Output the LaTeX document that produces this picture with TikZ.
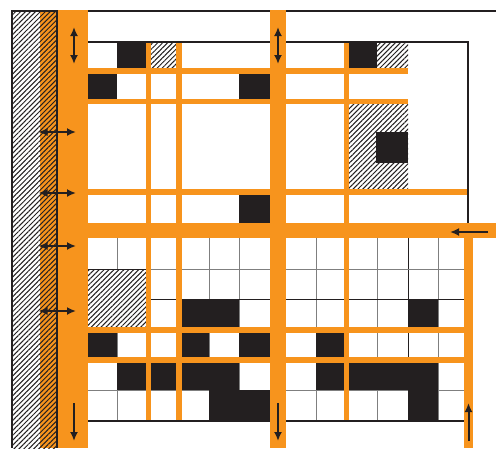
\documentclass[tikz,border=0pt]{standalone}
\usetikzlibrary{arrows.meta,patterns.meta}
\definecolor{org}{HTML}{F7941D}
\definecolor{ink}{HTML}{231F20}
\definecolor{gridgray}{HTML}{7F7F7F}
\begin{document}
\begin{tikzpicture}[x=1pt,y=-1pt,
  orng/.style={fill=org},
  blk/.style={fill=ink},
  hatch/.style={pattern={Lines[angle=45,distance=3.5pt,line width=1pt]},pattern color=ink},
  gl/.style={draw=gridgray,line width=1pt},
  glk/.style={draw=ink,line width=1pt},
  arr/.style={draw=ink,line width=2pt,-{Latex[length=9pt,width=8pt]}},
  darr/.style={draw=ink,line width=2pt,{Latex[length=9pt,width=8pt]}-{Latex[length=9pt,width=8pt]}}]
\fill[white] (0,0) rectangle (496,448);
\useasboundingbox (0,0) rectangle (496,448);
% left hatched wall
\fill[white] (11,10) rectangle (40,448);
\fill[org] (40,10) rectangle (57,448);
\fill[hatch] (11,10) rectangle (57,448);
\fill[ink] (11,10) rectangle (13,448);
\fill[ink] (56,10) rectangle (58,448);
% top region cells
\fill[blk] (117,43) rectangle (146,68);
\fill[white] (151,43) rectangle (176,68);
\fill[hatch] (151,43) rectangle (176,68);
\fill[blk] (349,43) rectangle (377,68);
\fill[hatch] (377,43) rectangle (408,68);
\fill[blk] (88,74) rectangle (117,99);
\fill[blk] (239,74) rectangle (270,99);
\fill[hatch] (349,104) rectangle (408,189);
\fill[blk] (376,132) rectangle (408,163);
\fill[blk] (239,195) rectangle (270,223);
% lower grid lines
\foreach \x in {117,209,239,316,377,438} \draw[gl] (\x,238) -- (\x,420);
\draw[glk] (408,238) -- (408,420);
\foreach \y in {269,390} \draw[gl] (88,\y) -- (464,\y);
\draw[glk] (88,299) -- (464,299);
% lower hatched cell
\fill[white] (88,269) rectangle (146,327);
\fill[hatch] (88,269) rectangle (146,327);
\draw[glk] (88,269) -- (146,269);
% lower black cells
\fill[blk] (182,299) rectangle (239,327);
\fill[blk] (408,299) rectangle (438,327);
\fill[blk] (88,333) rectangle (117,357);
\fill[blk] (182,333) rectangle (209,357);
\fill[blk] (239,333) rectangle (270,357);
\fill[blk] (316,333) rectangle (344,357);
\fill[blk] (117,363) rectangle (146,390);
\fill[blk] (151,363) rectangle (176,390);
\fill[blk] (182,363) rectangle (239,390);
\fill[blk] (316,363) rectangle (344,390);
\fill[blk] (349,363) rectangle (438,390);
\fill[blk] (209,390) rectangle (270,420);
\fill[blk] (408,390) rectangle (438,420);
% thin orange lines
\fill[orng] (88,68) rectangle (408,74);
\fill[orng] (88,99) rectangle (408,104);
\fill[orng] (88,189) rectangle (468,195);
\fill[orng] (88,327) rectangle (468,333);
\fill[orng] (88,357) rectangle (468,363);
\fill[orng] (146,42) rectangle (151,420);
\fill[orng] (176,42) rectangle (182,420);
\fill[orng] (344,42) rectangle (349,420);
% black outline lines
\fill[ink] (11,10) rectangle (496,12);
\fill[ink] (88,41) rectangle (469,43);
\fill[ink] (467,41) rectangle (469,223);
\fill[ink] (88,420) rectangle (464,422);
% thick orange bars
\fill[orng] (464,223) rectangle (472.5,448);
\fill[orng] (58,10) rectangle (88,448);
\fill[orng] (270,10) rectangle (286,448);
\fill[orng] (88,223) rectangle (496,238);
% arrows
\coordinate (lt1) at (74,27);   \coordinate (lt2) at (74,64);
\coordinate (mt1) at (278,27);  \coordinate (mt2) at (278,64);
\draw[darr] (lt1) -- (lt2);
\draw[darr] (mt1) -- (mt2);
\foreach \y [count=\i] in {132,193,246,311} {
  \coordinate (ha\i) at (38.5,\y); \coordinate (hb\i) at (76,\y);
  \draw[darr] (ha\i) -- (hb\i);
}
\coordinate (ld1) at (74,403);  \coordinate (ld2) at (74,441);
\coordinate (md1) at (278,403); \coordinate (md2) at (278,441);
\coordinate (ru1) at (468.5,441); \coordinate (ru2) at (468.5,403);
\coordinate (rl1) at (488,232); \coordinate (rl2) at (450,232);
\draw[arr] (ld1) -- (ld2);
\draw[arr] (md1) -- (md2);
\draw[arr] (ru1) -- (ru2);
\draw[arr] (rl1) -- (rl2);
\end{tikzpicture}
\end{document}
